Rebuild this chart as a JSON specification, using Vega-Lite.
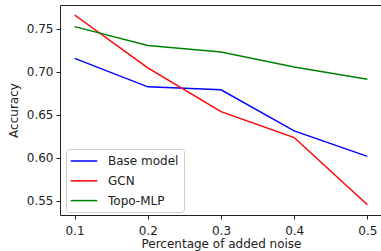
{
  "$schema": "https://vega.github.io/schema/vega-lite/v6.json",
  "autosize": {"type": "none"},
  "padding": {"left": 60, "top": 5, "right": 0, "bottom": 36},
  "width": 322,
  "height": 210,
  "background": "white",
  "config": {
    "font": "DejaVu Sans",
    "view": {"stroke": "#222", "strokeWidth": 1},
    "axis": {"grid": false, "domain": false, "tickColor": "#222", "tickSize": 4, "labelColor": "#222", "titleColor": "#222", "labelFontSize": 12, "titleFontSize": 12, "titleFontWeight": "normal", "labelFont": "DejaVu Sans", "titleFont": "DejaVu Sans"}
  },
  "data": {
    "values": [
      {"noise": 0.1, "model": "Base model", "acc": 0.7154},
      {"noise": 0.2, "model": "Base model", "acc": 0.6823},
      {"noise": 0.3, "model": "Base model", "acc": 0.6789},
      {"noise": 0.4, "model": "Base model", "acc": 0.6311},
      {"noise": 0.5, "model": "Base model", "acc": 0.6015},
      {"noise": 0.1, "model": "GCN", "acc": 0.7658},
      {"noise": 0.2, "model": "GCN", "acc": 0.7043},
      {"noise": 0.3, "model": "GCN", "acc": 0.6535},
      {"noise": 0.4, "model": "GCN", "acc": 0.6234},
      {"noise": 0.5, "model": "GCN", "acc": 0.5453},
      {"noise": 0.1, "model": "Topo-MLP", "acc": 0.7523},
      {"noise": 0.2, "model": "Topo-MLP", "acc": 0.7304},
      {"noise": 0.3, "model": "Topo-MLP", "acc": 0.7227},
      {"noise": 0.4, "model": "Topo-MLP", "acc": 0.7054},
      {"noise": 0.5, "model": "Topo-MLP", "acc": 0.6911}
    ]
  },
  "mark": {"type": "line", "strokeWidth": 1.5, "clip": true},
  "encoding": {
    "x": {
      "field": "noise", "type": "quantitative",
      "scale": {"domain": [0.08, 0.52], "nice": false, "zero": false},
      "axis": {"title": "Percentage of added noise", "values": [0.1, 0.2, 0.3, 0.4, 0.5], "format": ".1f", "labelPadding": 6, "titlePadding": 2}
    },
    "y": {
      "field": "acc", "type": "quantitative",
      "scale": {"domain": [0.5334, 0.7774], "nice": false, "zero": false},
      "axis": {"title": "Accuracy", "values": [0.55, 0.6, 0.65, 0.7, 0.75], "format": ".2f", "labelPadding": 3, "titlePadding": 6}
    },
    "color": {
      "field": "model", "type": "nominal",
      "scale": {"domain": ["Base model", "GCN", "Topo-MLP"], "range": ["#0000ff", "#ff0000", "#008000"]},
      "legend": {
        "title": null, "orient": "none", "legendX": 6, "legendY": 144,
        "symbolType": "M-1.2,0H3.2", "symbolSize": 144, "symbolStrokeWidth": 1.5, "symbolFillColor": "transparent",
        "labelFontSize": 12, "labelColor": "#222", "labelFont": "DejaVu Sans",
        "rowPadding": 6.8, "padding": 5, "fillColor": "white", "strokeColor": "#ccc", "cornerRadius": 3, "labelOffset": 23
      }
    }
  }
}
